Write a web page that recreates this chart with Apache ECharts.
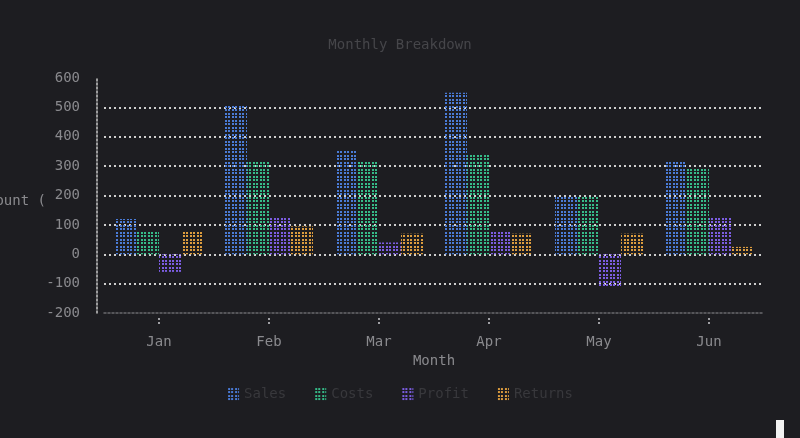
<!DOCTYPE html>
<html>
<head>
<meta charset="utf-8">
<script src="https://cdn.jsdelivr.net/npm/echarts@6/dist/echarts.min.js"></script>
<style>
  html, body { margin: 0; padding: 0; background: #1d1d21; }
  #main { width: 800px; height: 438px; }
</style>
</head>
<body>
<div id="main"></div>
<script>
const months = ['Jan', 'Feb', 'Mar', 'Apr', 'May', 'Jun'];
const sales = [120, 510, 355, 550, 195, 315];
const costs = [80, 315, 315, 345, 200, 290];
const profit = [-60, 125, 40, 80, -115, 125];
const returns = [80, 95, 70, 70, 70, 25];

const mono = '"DejaVu Sans Mono", "Liberation Mono", monospace';

// dotted fill, looks like braille cells in a terminal
function dots(color) {
    const c = document.createElement('canvas');
    c.width = 7;
    c.height = 7;
    const ctx = c.getContext('2d');
    ctx.fillStyle = color;
    [[1, 1], [4, 1], [1, 4], [4, 4]].forEach(function (p) {
        ctx.fillRect(p[0], p[1], 2, 2);
    });
    return { image: c, repeat: 'repeat' };
}

function bar(name, data, color) {
    return {
        name: name,
        type: 'bar',
        data: data,
        barGap: 0,
        barCategoryGap: '20%',
        itemStyle: { color: dots(color) }
    };
}

const myChart = echarts.init(document.getElementById('main'));
myChart.setOption({
    backgroundColor: '#1d1d21',
    animation: false,
    textStyle: { fontFamily: mono },
    title: {
        text: 'Monthly Breakdown',
        left: 'center',
        top: 33,
        textStyle: { color: '#46464a', fontSize: 14, fontWeight: 'normal', fontFamily: mono }
    },
    grid: { left: 104, right: 36, top: 78, bottom: 125, outerBoundsMode: 'none', containLabel: false },
    legend: {
        bottom: 32,
        left: 'center',
        itemWidth: 12,
        itemHeight: 14,
        itemGap: 28,
        icon: 'rect',
        textStyle: { color: '#38383c', fontSize: 14, fontFamily: mono },
        data: ['Sales', 'Costs', 'Profit', 'Returns']
    },
    xAxis: {
        type: 'category',
        data: months,
        name: 'Month',
        nameLocation: 'middle',
        nameGap: 39,
        nameTextStyle: { color: '#8a8a8e', fontSize: 14, fontFamily: mono },
        axisLine: { onZero: false, lineStyle: { color: '#6a6a6e', type: [2, 2], width: 1.5 } },
        axisTick: {
            show: true,
            alignWithLabel: true,
            length: 12,
            lineStyle: { color: '#a0a0a4', type: [0, 5, 2, 2, 2, 9], width: 2 }
        },
        axisLabel: { color: '#8a8a8e', fontSize: 14, margin: 22, fontFamily: mono }
    },
    yAxis: {
        type: 'value',
        min: -200,
        max: 600,
        interval: 100,
        offset: 7,
        axisLine: { show: true, lineStyle: { color: '#c8c8c8', type: [2, 2], width: 1.5 } },
        axisTick: { show: false },
        axisLabel: { color: '#8a8a8e', fontSize: 14, margin: 17, fontFamily: mono },
        splitLine: {
            show: true,
            showMinLine: false,
            showMaxLine: false,
            lineStyle: { color: '#cfcfcf', type: [2, 3], width: 2 }
        }
    },
    series: [
        bar('Sales', sales, '#4a7bd6'),
        bar('Costs', costs, '#36bb88'),
        bar('Profit', profit, '#7b5de0'),
        bar('Returns', returns, '#dc9c3e')
    ],
    graphic: [
        {
            type: 'text', x: 46, y: 201,
            style: { text: 'Amount (', fill: '#8a8a8e', font: '14px ' + mono, textAlign: 'right', textVerticalAlign: 'middle' }
        },
        { type: 'rect', right: 16, bottom: 0, shape: { width: 8, height: 18 }, style: { fill: '#f2f2f2' } }
    ]
});
window.onresize = myChart.resize;
</script>
</body>
</html>
